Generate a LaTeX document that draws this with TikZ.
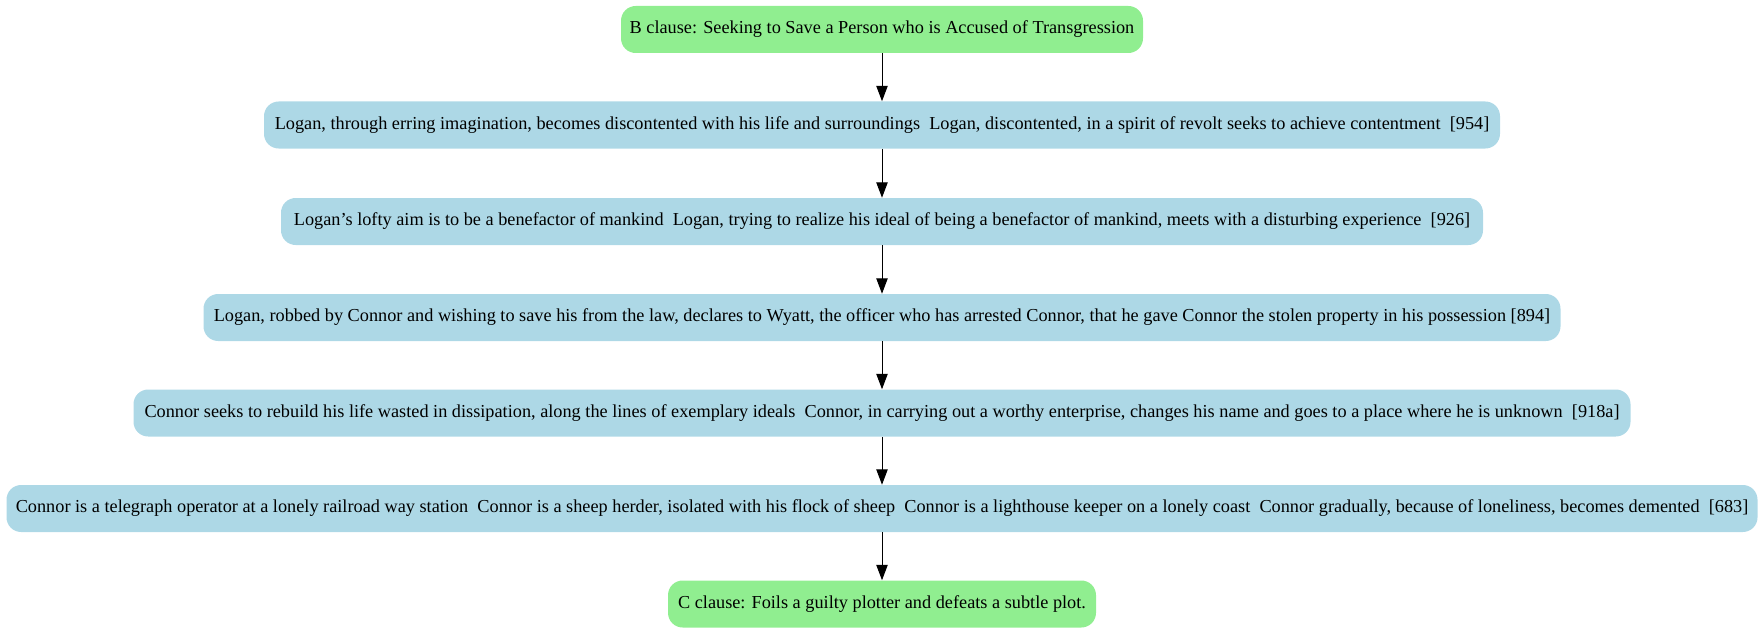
\documentclass[tikz,border=0pt]{standalone}
\usepackage{fontspec}
\setmainfont{Liberation Serif}
\usetikzlibrary{arrows.meta}
\definecolor{clausegreen}{HTML}{90EE90}
\definecolor{eventblue}{HTML}{ADD8E6}
\begin{document}
\begin{tikzpicture}[x=0.75pt,y=-0.75pt,
  box/.style={rounded corners=11pt, minimum height=35.25pt, inner sep=0pt, font=\fontsize{13.7}{16}\selectfont},
  clause/.style={box, fill=clausegreen},
  event/.style={box, fill=eventblue},
  link/.style={line width=0.75pt, -{Triangle[length=11.5pt,width=8.5pt]}}]
\useasboundingbox (0,0) rectangle (1764,635);
\node[clause, minimum width=391.5pt] (n1) at (882,29.5) {B clause: Seeking to Save a Person who is Accused of Transgression};
\node[event, minimum width=927pt] (n2) at (882,125) {Logan, through erring imagination, becomes discontented with his life and surroundings\ \ Logan, discontented, in a spirit of revolt seeks to achieve contentment\ \ [954]};
\node[event, minimum width=901.5pt] (n3) at (882,221.5) {Logan's lofty aim is to be a benefactor of mankind\ \ Logan, trying to realize his ideal of being a benefactor of mankind, meets with a disturbing experience\ \ [926]};
\node[event, minimum width=1017.75pt] (n4) at (882,317.5) {Logan, robbed by Connor and wishing to save his from the law, declares to Wyatt, the officer who has arrested Connor, that he gave Connor the stolen property in his possession [894]};
\node[event, minimum width=1122.75pt] (n5) at (882,413) {Connor seeks to rebuild his life wasted in dissipation, along the lines of exemplary ideals\ \ Connor, in carrying out a worthy enterprise, changes his name and goes to a place where he is unknown\ \ [918a]};
\node[event, minimum width=1313.25pt] (n6) at (882,508.5) {Connor is a telegraph operator at a lonely railroad way station\ \ Connor is a sheep herder, isolated with his flock of sheep\ \ Connor is a lighthouse keeper on a lonely coast\ \ Connor gradually, because of loneliness, becomes demented\ \ [683]};
\node[clause, minimum width=321pt] (n7) at (882,604) {C clause: Foils a guilty plotter and defeats a subtle plot.};
\draw[link] (n1) -- (n2);
\draw[link] (n2) -- (n3);
\draw[link] (n3) -- (n4);
\draw[link] (n4) -- (n5);
\draw[link] (n5) -- (n6);
\draw[link] (n6) -- (n7);
\end{tikzpicture}
\end{document}
